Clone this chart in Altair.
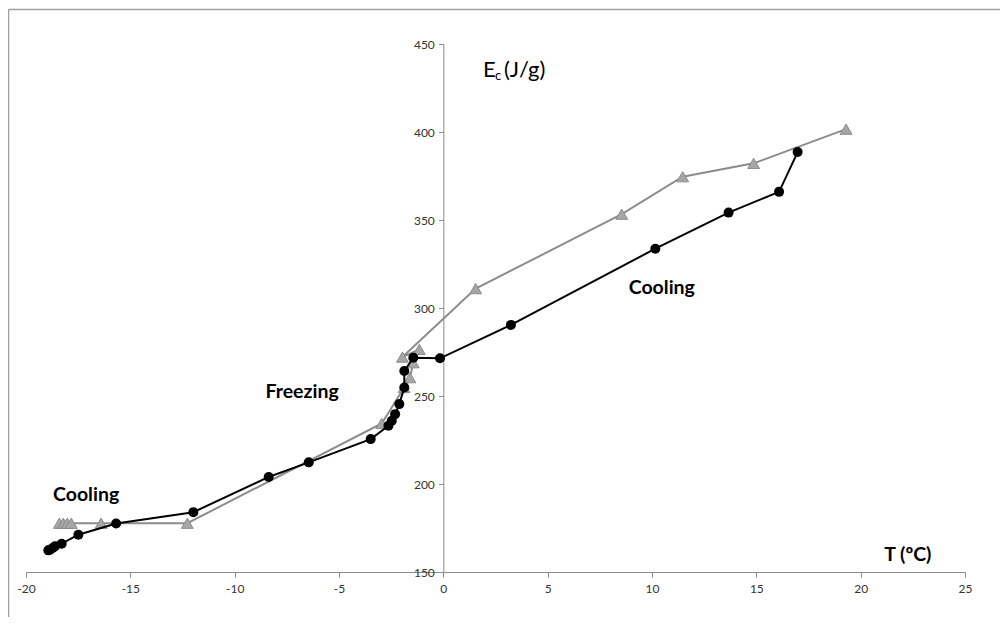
import altair as alt
import pandas as pd

# Heating series (grey triangles)
heat_T = [-18.40, -18.21, -18.02, -17.83, -16.40, -12.27, -2.95, -1.88, -1.60, -1.44,
          -1.15, -1.96, 1.55, 8.55, 11.47, 14.87, 19.30]
heat_E = [177.7, 177.7, 177.7, 177.7, 177.7, 177.7, 234.4, 254.8, 260.4, 268.9,
          276.5, 272.1, 311.0, 353.3, 374.6, 382.2, 401.6]

# Cooling series (black circles)
cool_T = [-18.93, -18.85, -18.72, -18.61, -18.29, -17.49, -15.68, -11.98, -8.37, -6.45,
          -3.48, -2.63, -2.47, -2.31, -2.11, -1.87, -1.87, -1.44, -0.16, 3.24,
          10.16, 13.67, 16.09, 16.98]
cool_E = [162.3, 162.7, 163.6, 164.6, 166.1, 171.2, 177.6, 184.0, 204.0, 212.3,
          225.5, 233.1, 235.9, 239.7, 245.4, 254.8, 264.2, 271.7, 271.4, 290.4,
          333.7, 354.2, 366.0, 388.6]

x_ticks = [-20, -15, -10, -5, 0, 5, 10, 15, 20, 25]
y_ticks = [150, 200, 250, 300, 350, 400, 450]

ann_text = ["Cooling", "Freezing", "Cooling", "T (ºC)"]
ann_T = [-17.12, -6.77, 10.47, 22.26]
ann_E = [194.0, 252.3, 311.2, 159.4]

ylab_T = 1.90
ylab_E = 435.2

W, H = 939, 528
FONT = "Lato"
AXIS_COL = "#8a8a8a"
LABEL_COL = "#333333"

heat = pd.DataFrame({"T": heat_T, "E": heat_E, "i": list(range(len(heat_T)))})
cool = pd.DataFrame({"T": cool_T, "E": cool_E, "i": list(range(len(cool_T)))})
ann = pd.DataFrame({"T": ann_T, "E": ann_E, "label": ann_text})
ylab = pd.DataFrame({"T": [ylab_T], "E": [ylab_E]})
one = pd.DataFrame({"a": [0]})

x_scale = alt.Scale(domain=[-20, 25], nice=False, zero=False)
y_scale = alt.Scale(domain=[150, 450], nice=False, zero=False)

x_axis = alt.Axis(values=x_ticks, title=None, grid=False, domainColor=AXIS_COL,
                  tickColor=AXIS_COL, tickSize=5, labelFont=FONT, labelFontSize=12,
                  labelColor=LABEL_COL, labelPadding=6, labelFlush=False,
                  labelOverlap=False, labelExpr="'' + datum.value")
y_axis = alt.Axis(values=y_ticks, title=None, grid=False, domainColor=AXIS_COL,
                  tickColor=AXIS_COL, tickSize=5, labelFont=FONT, labelFontSize=12,
                  labelColor=LABEL_COL, labelPadding=4, offset=-W * 20 / 45,
                  labelFlush=False, labelOverlap=False,
                  labelExpr="'' + datum.value")

X = alt.X("T:Q", scale=x_scale, axis=x_axis)
Y = alt.Y("E:Q", scale=y_scale, axis=y_axis)

heat_line = alt.Chart(heat).mark_line(color="#8c8c8c", strokeWidth=2).encode(
    x=X, y=Y, order="i:Q")
heat_pts = alt.Chart(heat).mark_point(shape="triangle-up", size=140, filled=True,
                                      fill="#a6a6a6", stroke="#8c8c8c",
                                      strokeWidth=1, opacity=1).encode(x=X, y=Y)
cool_line = alt.Chart(cool).mark_line(color="#000000", strokeWidth=2).encode(
    x=X, y=Y, order="i:Q")
cool_pts = alt.Chart(cool).mark_point(shape="circle", size=100, filled=True,
                                      fill="#000000", opacity=1).encode(x=X, y=Y)

ann_layer = alt.Chart(ann).mark_text(font=FONT, fontSize=19.5, fontWeight="bold",
                                     color="#000000", align="center",
                                     baseline="middle").encode(x=X, y=Y, text="label:N")

e_main = alt.Chart(ylab).mark_text(font=FONT, fontSize=22, color="#000000",
                                   align="left", baseline="middle",
                                   text="E").encode(x=X, y=Y)
e_sub = alt.Chart(ylab).mark_text(font=FONT, fontSize=13, color="#000000",
                                  align="left", baseline="middle", dx=12, dy=6,
                                  text="c").encode(x=X, y=Y)
e_unit = alt.Chart(ylab).mark_text(font=FONT, fontSize=22, color="#000000",
                                   align="left", baseline="middle", dx=21,
                                   text="(J/g)").encode(x=X, y=Y)

RIGHT_PAD, BOTTOM_PAD = 35, 45
border_left = alt.Chart(one).mark_rule(color="#a0a0a0", strokeWidth=1.5).encode(
    x=alt.value(-17.5), y=alt.value(-34.5), y2=alt.value(H + BOTTOM_PAD))
border_top = alt.Chart(one).mark_rule(color="#a0a0a0", strokeWidth=1.5).encode(
    x=alt.value(-17.5), x2=alt.value(W + RIGHT_PAD), y=alt.value(-34.5))

chart = alt.layer(
    heat_line, heat_pts, cool_line, cool_pts, ann_layer, e_main, e_sub, e_unit,
    border_left, border_top
).properties(
    width=W, height=H,
    autosize=alt.AutoSizeParams(type="none"),
    padding={"left": 18, "top": 36, "right": RIGHT_PAD, "bottom": BOTTOM_PAD},
    background="white",
).configure_view(stroke=None)

chart.save("out.html", embed_options={"renderer": "svg", "actions": False})
